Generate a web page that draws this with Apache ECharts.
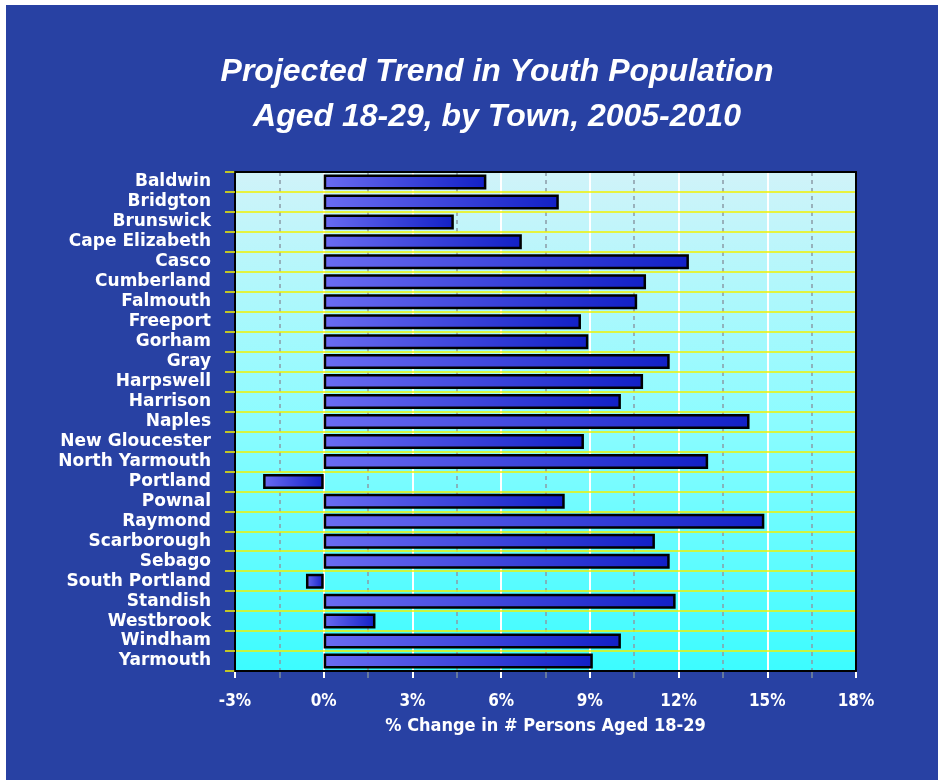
<!DOCTYPE html>
<html>
<head>
<meta charset="utf-8">
<script src="https://cdn.jsdelivr.net/npm/echarts@6/dist/echarts.min.js"></script>
<style>
  html, body { margin: 0; padding: 0; background: #ffffff; }
  #chart { position: absolute; left: 6px; top: 5px; width: 932px; height: 775px; }
</style>
</head>
<body>
<div id="chart"></div>
<script>
// towns, top to bottom
const towns = [
  'Baldwin', 'Bridgton', 'Brunswick', 'Cape Elizabeth', 'Casco', 'Cumberland',
  'Falmouth', 'Freeport', 'Gorham', 'Gray', 'Harpswell', 'Harrison', 'Naples',
  'New Gloucester', 'North Yarmouth', 'Portland', 'Pownal', 'Raymond',
  'Scarborough', 'Sebago', 'South Portland', 'Standish', 'Westbrook',
  'Windham', 'Yarmouth'
]

// % change in persons aged 18-29, 2005-2010
const pctChange = [
  5.5, 7.95, 4.4, 6.7, 12.35, 10.9,
  10.6, 8.7, 8.95, 11.7, 10.8, 10.05, 14.4,
  8.8, 13.0, -2.05, 8.15, 14.9,
  11.2, 11.7, -0.6, 11.9, 1.75,
  10.05, 9.1
]

const xMin = -3
const xMax = 18
const xStep = 3

const chart = echarts.init(document.getElementById('chart'), null, {renderer: 'canvas'})

const barColor = new echarts.graphic.LinearGradient(0, 0, 1, 0, [
  {offset: 0, color: '#6a6cf2'},
  {offset: 1, color: '#1220c6'}
])

const plotColor = new echarts.graphic.LinearGradient(0, 0, 0, 1, [
  {offset: 0, color: '#d0f3f9'},
  {offset: 0.5, color: '#8cfcff'},
  {offset: 1, color: '#3cfcff'}
])

// plain black frame axis, no ticks or labels
function frameAxis(type, position, extra) {
  return Object.assign({
    type: type,
    position: position,
    z: 2,
    axisLine: {show: true, onZero: false, lineStyle: {color: '#000000', width: 2}},
    axisTick: {show: false},
    axisLabel: {show: false},
    splitLine: {show: false}
  }, extra)
}

const options = {
  backgroundColor: '#2841a3',
  animation: false,
  title: {
    text: 'Projected Trend in Youth Population\nAged 18-29, by Town, 2005-2010',
    left: 486,
    top: 40,
    textAlign: 'center',
    textStyle: {
      color: '#ffffff',
      fontFamily: 'Liberation Sans',
      fontStyle: 'italic',
      fontWeight: 'bold',
      fontSize: 32,
      lineHeight: 45
    }
  },
  grid: {
    left: 229,
    right: 82,
    top: 167,
    bottom: 109,
    show: true,
    backgroundColor: plotColor,
    borderWidth: 0
  },
  xAxis: [{
    type: 'value',
    min: xMin,
    max: xMax,
    interval: xStep,
    z: 0,
    name: '% Change in # Persons Aged 18-29',
    nameLocation: 'middle',
    nameGap: 46,
    nameTextStyle: {
      color: '#ffffff',
      fontFamily: 'DejaVu Sans Condensed',
      fontWeight: 'bold',
      fontSize: 18
    },
    axisLine: {show: false},
    axisTick: {show: true, length: 7, lineStyle: {color: '#ffffff', width: 2}},
    minorTick: {show: true, splitNumber: 2, length: 7, lineStyle: {color: '#7a8a9a', width: 1.5}},
    axisLabel: {
      margin: 22,
      color: '#ffffff',
      fontFamily: 'DejaVu Sans Condensed',
      fontWeight: 'bold',
      fontSize: 17,
      formatter: '{value}%'
    },
    splitLine: {show: true, lineStyle: {color: '#ffffff', width: 2}},
    minorSplitLine: {show: true, lineStyle: {color: '#8a9aa6', width: 1.5, type: [4, 4]}}
  },
  frameAxis('value', 'top', {min: xMin, max: xMax}),
  frameAxis('value', 'bottom', {min: xMin, max: xMax})],
  yAxis: [{
    type: 'category',
    data: towns,
    inverse: true,
    z: 1,
    axisLine: {show: true, onZero: false, lineStyle: {color: '#000000', width: 2}},
    axisTick: {show: true, interval: 0, length: 10, lineStyle: {color: '#f2f200', width: 1.5}},
    axisLabel: {
      interval: 0,
      margin: 24,
      color: '#ffffff',
      fontFamily: 'DejaVu Sans',
      fontWeight: 'bold',
      fontSize: 17
    },
    splitLine: {show: true, interval: 0, lineStyle: {color: '#f2f200', width: 1.5}}
  },
  frameAxis('category', 'right', {data: towns})],
  series: [{
    name: '% change',
    type: 'bar',
    xAxisIndex: 0,
    yAxisIndex: 0,
    data: pctChange,
    barWidth: 15,
    z: 3,
    itemStyle: {
      color: barColor,
      borderColor: '#000000',
      borderWidth: 2.5
    }
  }]
}

chart.setOption(options)
</script>
</body>
</html>
